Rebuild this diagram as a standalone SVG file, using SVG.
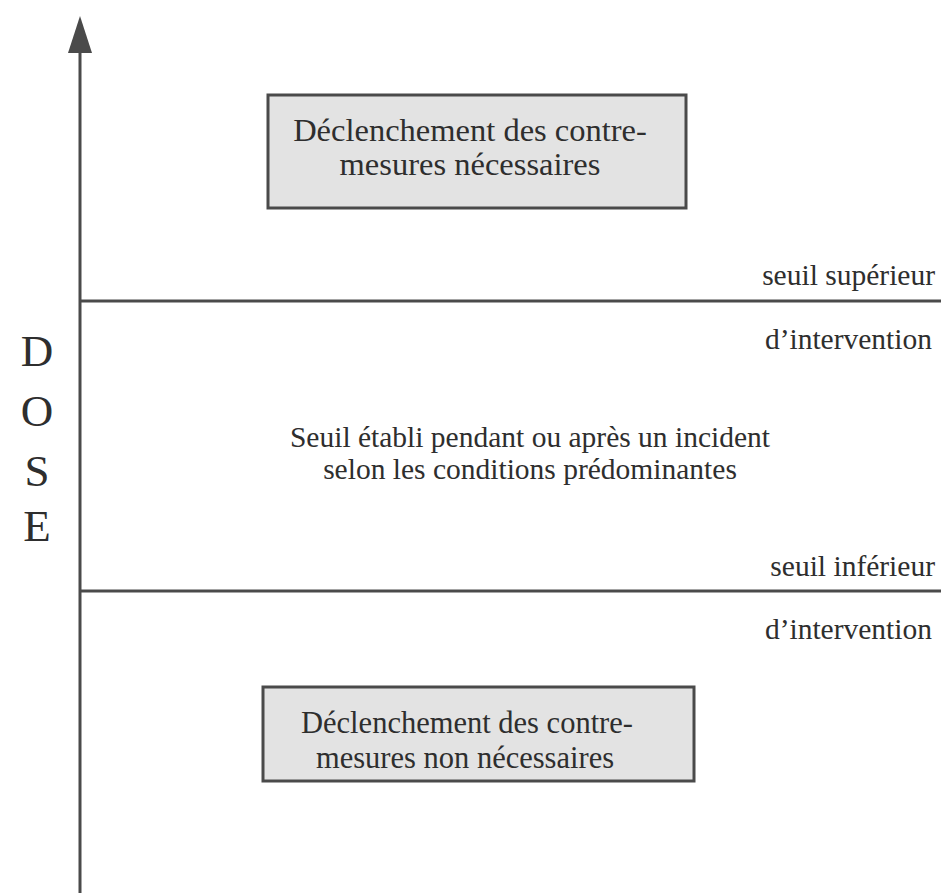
<svg xmlns="http://www.w3.org/2000/svg" width="941" height="893" viewBox="0 0 941 893">
  <style>
    text { font-family: "Liberation Serif", "Times New Roman", serif; fill: #2e2e2e; }
    .box { fill: #e3e3e3; stroke: #4a4a4a; stroke-width: 3; }
    .rule { stroke: #4a4a4a; stroke-width: 3; fill: none; }
    .lbl { font-size: 29.5px; text-anchor: end; }
    .mid { font-size: 29.5px; text-anchor: middle; }
    .boxtxt { text-anchor: middle; }
    .axis-letter { font-size: 45px; text-anchor: middle; }
  </style>
  <rect width="941" height="893" fill="#ffffff"/>

  <!-- dose axis and threshold rules -->
  <g id="connectors">
    <line class="rule" x1="80" y1="50" x2="80" y2="893"/>
    <polygon points="80,16 68,53 92,53" fill="#4a4a4a"/>
    <line class="rule" x1="80" y1="301" x2="941" y2="301"/>
    <line class="rule" x1="80" y1="591" x2="941" y2="591"/>
  </g>

  <g id="axis-label">
    <text class="axis-letter" x="37" y="366">D</text>
    <text class="axis-letter" x="37" y="426">O</text>
    <text class="axis-letter" x="37" y="486">S</text>
    <text class="axis-letter" x="37" y="541">E</text>
  </g>

  <g id="box-upper">
    <rect class="box" x="268" y="95" width="418" height="113"/>
    <text class="boxtxt" x="470" y="141" font-size="32.5">Déclenchement des contre-</text>
    <text class="boxtxt" x="470" y="175" font-size="32.5">mesures nécessaires</text>
  </g>

  <g id="upper-threshold">
    <text class="lbl" x="935" y="285">seuil supérieur</text>
    <text class="lbl" x="932" y="349">d’intervention</text>
  </g>

  <g id="middle-zone">
    <text class="mid" x="530" y="447">Seuil établi pendant ou après un incident</text>
    <text class="mid" x="530" y="479">selon les conditions prédominantes</text>
  </g>

  <g id="lower-threshold">
    <text class="lbl" x="935" y="576">seuil inférieur</text>
    <text class="lbl" x="932" y="639">d’intervention</text>
  </g>

  <g id="box-lower">
    <rect class="box" x="263" y="687" width="431" height="94"/>
    <text class="boxtxt" x="467" y="733" font-size="30.5">Déclenchement des contre-</text>
    <text class="boxtxt" x="465" y="768" font-size="30.5">mesures non nécessaires</text>
  </g>
</svg>
